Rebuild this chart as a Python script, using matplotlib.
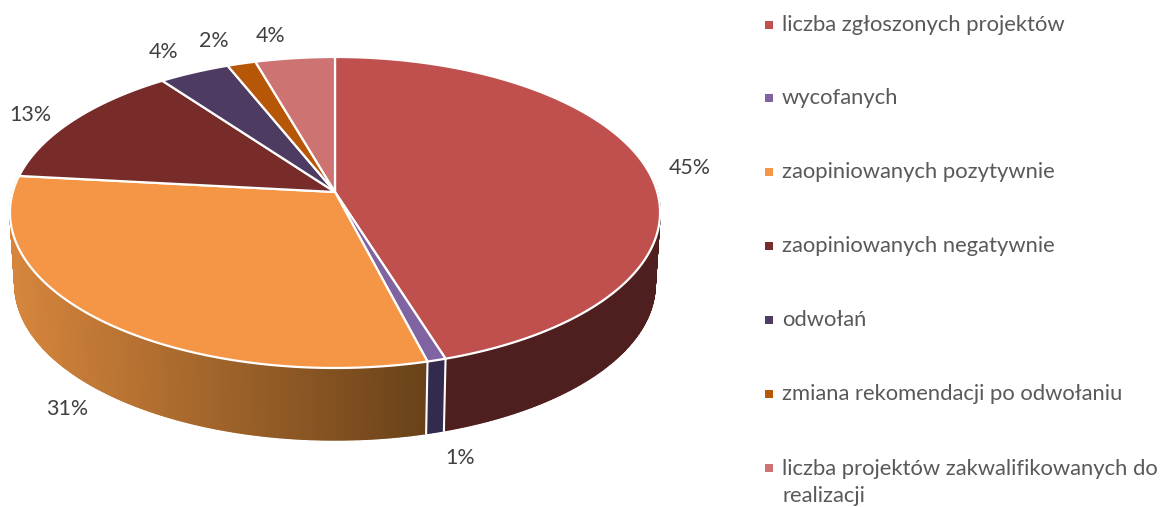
import numpy as np
import matplotlib
matplotlib.use('Agg')
import matplotlib.pyplot as plt
from matplotlib.colors import to_rgb

plt.rcParams['font.family'] = ['Lato', 'DejaVu Sans']

# Chart data
categories = ['liczba zgłoszonych projektów', 'wycofanych', 'zaopiniowanych pozytywnie',
              'zaopiniowanych negatywnie', 'odwołań', 'zmiana rekomendacji po odwołaniu',
              'liczba projektów zakwalifikowanych do\nrealizacji']
values = [45.15, 0.82, 30.73, 13.2, 4.0, 1.61, 4.49]

colors = ['#bf504d', '#8064a2', '#f49646', '#772c2a', '#4d3b62', '#b65708', '#cd7371']
wall_colors = ['#4f1e1e', '#332b4d', None, '#4f1e1e', '#332b4d', '#6b3a10', '#7a4443']
wall_left = '#d5853c'
wall_right = '#6a4219'

# Pie geometry in pixels, simple perspective so the back of the disc is squeezed
cx, cy = 335, 192
rx, ry = 322.2, 152.8
persp = 0.1317
depth = 72
bottom_scale = 0.985

label_xy = [(690, 168), (460, 458), (67, 409), (30, 115), (164, 52), (214, 41), (271, 36)]
legend_y = [25, 98, 172, 246, 320, 394, 482.5]
legend_marker_y = [25, 98, 172, 246, 320, 394, 468]


def rim(theta):
    # theta in degrees, clockwise from the top of the pie
    t = np.radians(theta)
    d = 1 + persp * np.cos(t)
    return cx + rx * np.sin(t) / d, cy - ry * np.cos(t) / d


fig = plt.figure(figsize=(11.7, 5.07), dpi=100)
ax = fig.add_axes([0, 0, 1, 1])
ax.set_xlim(0, 1170)
ax.set_ylim(507, 0)
ax.axis('off')

edges = np.concatenate([[0], np.cumsum(values)]) * 3.6

# Side walls, only the part that faces the viewer, cut into thin strips
c0, c1 = np.array(to_rgb(wall_left)), np.array(to_rgb(wall_right))
for i in range(len(values)):
    a0 = max(edges[i], 85)
    a1 = min(edges[i + 1], 277)
    if a1 <= a0:
        continue
    th = np.linspace(a0, a1, max(int((a1 - a0) * 3), 4))
    x, y = rim(th)
    xb = cx + (x - cx) * bottom_scale
    yb = y + depth
    for j in range(len(th) - 1):
        if wall_colors[i] is None:
            f = np.clip((x[j] - 15) / (425 - 15), 0, 1)
            col = c0 + (c1 - c0) * f
        else:
            col = wall_colors[i]
        ax.fill([x[j], x[j + 1], xb[j + 1], xb[j]], [y[j], y[j + 1], yb[j + 1], yb[j]],
                facecolor=col, edgecolor=col, linewidth=1.0, zorder=2)

# White separators between the walls
for a in edges[1:3]:
    x, y = rim(a)
    ax.plot([x, cx + (x - cx) * bottom_scale], [y, y + depth], color='white', lw=1.5, zorder=3)

# Top face
for i in range(len(values)):
    th = np.linspace(edges[i], edges[i + 1], max(int(values[i] * 8), 6))
    x, y = rim(th)
    ax.fill(np.r_[cx, x], np.r_[cy, y], facecolor=colors[i], edgecolor='white',
            linewidth=1.6, joinstyle='round', zorder=4)

# Percent labels
for v, (lx, ly) in zip(values, label_xy):
    ax.text(lx, ly, f'{v:.0f}%', ha='center', va='center', fontsize=15.4, color='#404040', zorder=5)

# Legend
for name, col, ty, my in zip(categories, colors, legend_y, legend_marker_y):
    ax.scatter([769], [my], marker='s', s=36, color=col, linewidths=0, zorder=5)
    ax.text(782, ty, name, ha='left', va='center', fontsize=15.85, color='#595959',
            linespacing=1.42, zorder=5)

fig.savefig('out.png', dpi=100)
